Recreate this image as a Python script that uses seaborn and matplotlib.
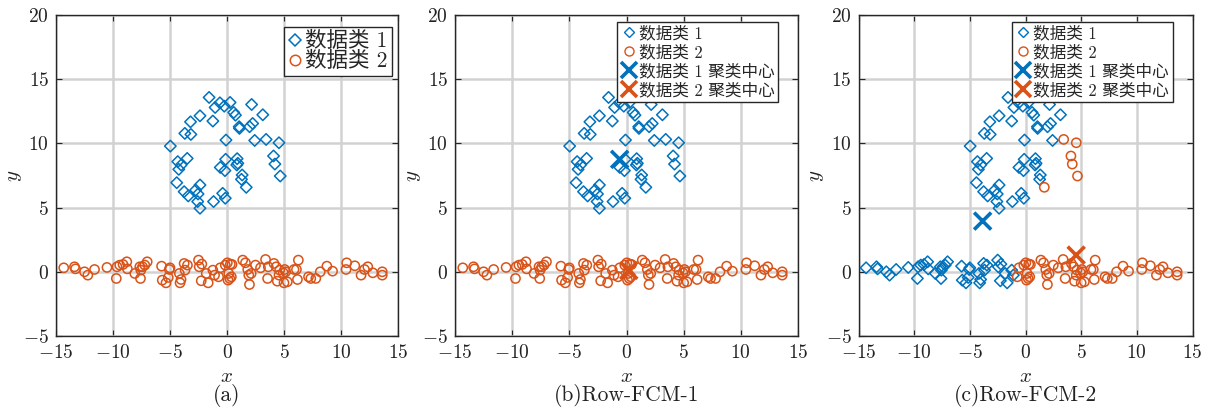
import numpy as np
import pandas as pd
import matplotlib
matplotlib.use("Agg")
import matplotlib.pyplot as plt
from matplotlib.lines import Line2D
from matplotlib.font_manager import FontProperties
import seaborn as sns

# ---- data -------------------------------------------------------------
# class 1: ring-shaped cloud
x1 = [-1.57, -0.62, -1.04, -0.24, 0.27, 0.59, 0.74, 2.16, 3.14, -2.37,
      -3.20, -1.24, -3.70, -3.17, 1.07, 1.09, 1.98, 2.25, -0.09, 2.43,
      3.43, 4.56, -4.97, -4.32, -4.02, -3.49, -4.23, -0.12, -0.59, -0.18,
      0.89, 0.95, 0.86, 4.08, 4.20, 1.33, 1.27, 1.69, 4.67, -4.41,
      -3.76, -3.40, -2.75, -2.37, -2.54, -2.57, -2.37, -1.18, -0.38, -0.15]
y1 = [13.58, 13.16, 12.80, 12.90, 13.19, 12.41, 12.20, 13.03, 12.23, 12.15,
      11.68, 11.74, 10.78, 10.70, 11.30, 11.17, 11.30, 11.55, 10.26, 10.23,
      10.31, 10.05, 9.79, 8.58, 8.32, 8.83, 7.98, 8.76, 8.13, 7.88,
      8.81, 8.45, 8.32, 9.02, 8.39, 7.54, 7.20, 6.58, 7.46, 6.94,
      6.24, 5.91, 6.37, 6.76, 6.06, 5.47, 4.95, 5.47, 6.11, 5.73]

# class 2: long flat band
x2 = [-14.32, -13.38, -13.29, -12.50, -12.21, -11.62, -10.53, -9.71, -9.65, -9.41,
      -9.12, -8.79, -8.74, -8.09, -7.65, -7.56, -7.59, -7.41, -7.21, -7.00,
      -5.74, -5.68, -5.35, -5.15, -5.06, -5.00, -4.18, -4.12, -4.03, -3.76,
      -3.68, -3.47, -2.50, -2.44, -2.21, -2.26, -1.82, -1.65, -1.24, -1.09,
      -0.59, -0.74, -0.15, 0.03, 0.15, 0.29, 0.44, 0.09, 0.24, 0.38,
      1.38, 1.62, 1.82, 1.91, 1.97, 2.12, 2.50, 2.94, 3.38, 3.56,
      3.62, 4.12, 4.32, 4.41, 4.56, 4.62, 4.94, 5.06, 5.15, 5.29,
      5.00, 5.88, 6.09, 6.18, 6.26, 7.15, 7.35, 7.79, 8.18, 8.76,
      9.26, 10.50, 10.44, 11.21, 11.76, 12.06, 12.35, 12.79, 13.62, 13.62]
y2 = [0.31, 0.39, 0.23, 0.00, -0.26, 0.18, 0.34, -0.52, 0.39, 0.52,
      0.57, 0.78, 0.23, -0.13, 0.39, 0.13, -0.52, 0.39, 0.52, 0.78,
      0.44, -0.65, -0.86, -0.44, 0.18, 0.31, -0.13, -0.86, -0.60, 0.65,
      0.13, 0.52, 0.91, 0.39, 0.60, -0.70, -0.13, -0.86, 0.13, -0.26,
      0.31, -0.39, 0.52, 0.70, -0.13, 0.60, 0.57, -0.65, -0.52, -0.39,
      0.91, 0.70, 0.18, -0.26, -0.99, -0.13, 0.52, 0.31, 0.96, -0.52,
      0.39, 0.65, 0.39, -0.73, -0.26, 0.13, -0.08, 0.18, 0.00, -0.78,
      -0.86, 0.18, 0.18, -0.60, 0.91, -0.39, -0.52, -0.52, 0.00, 0.44,
      0.05, 0.70, 0.18, 0.47, -0.26, 0.18, 0.39, -0.08, 0.00, -0.26]

# cluster labels (0 -> class 1, 1 -> class 2)
true_lab1 = [0] * len(x1)
true_lab2 = [1] * len(x2)
fcm1_lab1 = [0] * len(x1)
fcm1_lab2 = [1] * len(x2)
fcm2_lab1 = [0, 0, 0, 0, 0, 0, 0, 0, 0, 0,
             0, 0, 0, 0, 0, 0, 0, 0, 0, 0,
             1, 1, 0, 0, 0, 0, 0, 0, 0, 0,
             0, 0, 0, 1, 1, 0, 0, 1, 1, 0,
             0, 0, 0, 0, 0, 0, 0, 0, 0, 0]
fcm2_lab2 = [0, 0, 0, 0, 0, 0, 0, 0, 0, 0,
             0, 0, 0, 0, 0, 0, 0, 0, 0, 0,
             0, 0, 0, 0, 0, 0, 0, 0, 0, 0,
             0, 0, 0, 0, 0, 0, 0, 0, 0, 0,
             1, 1, 1, 1, 1, 1, 1, 1, 1, 1,
             1, 1, 1, 1, 1, 1, 1, 1, 1, 1,
             1, 1, 1, 1, 1, 1, 1, 1, 1, 1,
             1, 1, 1, 1, 1, 1, 1, 1, 1, 1,
             1, 1, 1, 1, 1, 1, 1, 1, 1, 1]

# cluster centres found by each method
centers_fcm1_x = [-0.60, 0.20]
centers_fcm1_y = [8.76, 0.10]
centers_fcm2_x = [-3.85, 4.55]
centers_fcm2_y = [3.95, 1.30]

x_ticks = [-15, -10, -5, 0, 5, 10, 15]
y_ticks = [-5, 0, 5, 10, 15, 20]
class_names = ["数据类 1", "数据类 2"]
center_names = ["数据类 1 聚类中心", "数据类 2 聚类中心"]
titles = ["(a)", "(b)Row-FCM-1", "(c)Row-FCM-2"]

# ---- style ------------------------------------------------------------
sns.set_theme(style="white")
plt.rcParams["mathtext.fontset"] = "cm"
plt.rcParams["font.family"] = ["DejaVu Serif", "Noto Sans CJK SC"]

BLUE = "#0072BD"
RED = "#D95319"
GRID = "#d2d2d2"
EDGE = "#262626"
TXT = "#222222"

legend_font = ["cmr10", "Noto Sans CJK SC"]

fig = plt.figure(figsize=(12.1, 4.12), dpi=100)
H = 412.0
W = 1210.0
boxes = [(56, 342), (455, 343), (858.5, 334)]
axes = []
for left, width in boxes:
    axes.append(fig.add_axes([left / W, 1 - 336 / H, width / W, 321 / H]))


def draw_points(ax, lab1, lab2):
    pts = pd.DataFrame({
        "x": x1 + x2,
        "y": y1 + y2,
        "cls": lab1 + lab2,
    })
    d1 = pts[pts["cls"] == 0]
    d2 = pts[pts["cls"] == 1]
    sns.scatterplot(data=d1, x="x", y="y", ax=ax, marker="D", s=34,
                    facecolors="none", edgecolor=BLUE, linewidth=1.1,
                    zorder=3, legend=False)
    sns.scatterplot(data=d2, x="x", y="y", ax=ax, marker="o", s=44,
                    facecolors="none", edgecolor=RED, linewidth=1.1,
                    zorder=3, legend=False)


def draw_centers(ax, cx, cy):
    cdf = pd.DataFrame({"x": cx, "y": cy, "cls": [0, 1]})
    sns.scatterplot(data=cdf, x="x", y="y", hue="cls", palette=[BLUE, RED],
                    ax=ax, marker="x", s=150, linewidth=2.6, zorder=4,
                    legend=False)


def style_axes(ax, title, width_px):
    ax.set_xlim(-15, 15)
    ax.set_ylim(-5, 20)
    ax.set_xticks(x_ticks)
    ax.set_yticks(y_ticks)
    ax.set_xticklabels([f"${v}$" for v in x_ticks], fontsize=14)
    ax.set_yticklabels([f"${v}$" for v in y_ticks], fontsize=14)
    ax.grid(True, color=GRID, linewidth=1.8)
    ax.set_axisbelow(True)
    for sp in ax.spines.values():
        sp.set_color(EDGE)
        sp.set_linewidth(1.0)
    ax.tick_params(direction="in", length=4, width=0.8, color=EDGE,
                   top=True, right=True, bottom=True, left=True,
                   labelcolor=TXT, pad=5)
    ax.tick_params(axis="x", pad=6)
    ax.set_xlabel("")
    ax.set_ylabel("")
    ax.text(-42.0 / width_px, 0.5, "$y$", transform=ax.transAxes,
            ha="center", va="center", rotation=90, fontsize=15, color=TXT)
    ax.text(0.5, -0.125, "$x$", transform=ax.transAxes, ha="center",
            va="center", fontsize=15, color=TXT)
    ax.text(0.5, -0.185, title, transform=ax.transAxes, ha="center",
            va="center", fontsize=15.5, color=TXT, family="cmr10")


# (a) ground truth
draw_points(axes[0], true_lab1, true_lab2)
style_axes(axes[0], titles[0], boxes[0][1])
h_a = [Line2D([], [], marker="D", ls="none", mfc="none", mec=BLUE, ms=6.5, mew=1.1),
       Line2D([], [], marker="o", ls="none", mfc="none", mec=RED, ms=7.5, mew=1.1)]
leg = axes[0].legend(h_a, class_names, loc="upper right",
                     bbox_to_anchor=(0.981, 0.963),
                     prop=FontProperties(family=legend_font, size=15.5),
                     handlelength=0.6, handletextpad=0.15, borderpad=0.2,
                     labelspacing=0.0, borderaxespad=0.0, fancybox=False,
                     framealpha=1.0, edgecolor=EDGE)
leg.get_frame().set_linewidth(1.0)

# (b) and (c) clustering results
for ax, lab1, lab2, cx, cy, title, wpx in [
        (axes[1], fcm1_lab1, fcm1_lab2, centers_fcm1_x, centers_fcm1_y, titles[1], boxes[1][1]),
        (axes[2], fcm2_lab1, fcm2_lab2, centers_fcm2_x, centers_fcm2_y, titles[2], boxes[2][1])]:
    draw_points(ax, lab1, lab2)
    draw_centers(ax, cx, cy)
    style_axes(ax, title, wpx)
    hs = [Line2D([], [], marker="D", ls="none", mfc="none", mec=BLUE, ms=5.5, mew=1.0),
          Line2D([], [], marker="o", ls="none", mfc="none", mec=RED, ms=6.5, mew=1.0),
          Line2D([], [], marker="x", ls="none", color=BLUE, ms=11, mew=2.6),
          Line2D([], [], marker="x", ls="none", color=RED, ms=11, mew=2.6)]
    lg = ax.legend(hs, class_names + center_names, loc="upper right",
                   bbox_to_anchor=(1 - 20.0 / wpx, 1 - 7.0 / 321),
                   prop=FontProperties(family=legend_font, size=12),
                   handlelength=1.0, handletextpad=0.1, borderpad=0.2,
                   labelspacing=0.2, borderaxespad=0.0, fancybox=False,
                   framealpha=1.0, edgecolor=EDGE)
    lg.get_frame().set_linewidth(1.0)

fig.savefig("out.png", dpi=100)
